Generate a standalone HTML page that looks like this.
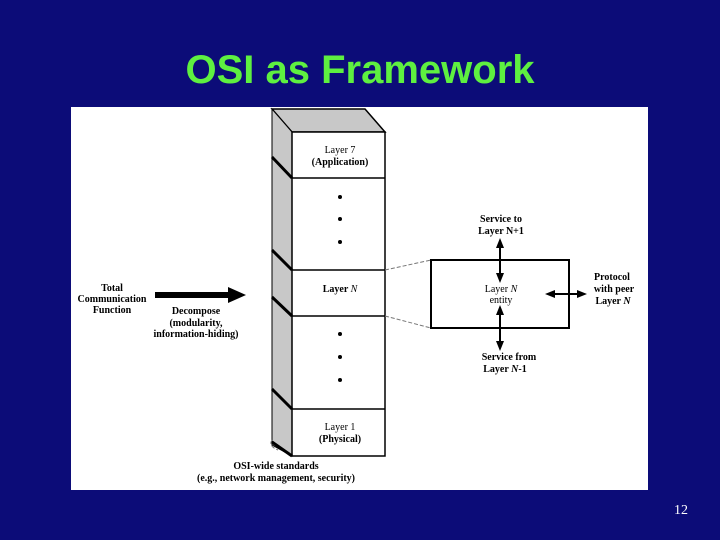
<!DOCTYPE html>
<html><head><style>
body{margin:0;width:720px;height:540px;background:#0c0c78;overflow:hidden;position:relative;font-family:"Liberation Serif",serif}
h1{position:absolute;top:48px;left:0;width:720px;margin:0;text-align:center;font:bold 40px "Liberation Sans",sans-serif;color:#5ef040}
.pn{position:absolute;right:32px;top:503px;color:#fff;font-size:14px}
</style></head><body>
<h1>OSI as Framework</h1>
<svg style="position:absolute;left:0;top:0" width="720" height="540" font-family="Liberation Serif,serif" font-size="10" font-weight="bold">
<rect x="71" y="107" width="577" height="383" fill="#fff"/>
<polygon points="272,109 365,109 385,132 292,132" fill="#c8c8c8" stroke="#000" stroke-width="1.5"/>
<polygon points="272,109 292,132 292,456 272,445" fill="#c8c8c8" stroke="#000" stroke-width="1"/>
<rect x="292" y="132" width="93" height="324" fill="#fff" stroke="#000" stroke-width="1.5"/>
<g stroke="#000" stroke-width="1.5">
<line x1="292" y1="178" x2="385" y2="178"/><line x1="292" y1="270" x2="385" y2="270"/>
<line x1="292" y1="316" x2="385" y2="316"/><line x1="292" y1="409" x2="385" y2="409"/>
</g>
<g stroke="#000" stroke-width="3">
<line x1="272" y1="157" x2="292" y2="178"/><line x1="272" y1="250" x2="292" y2="270"/>
<line x1="272" y1="297" x2="292" y2="316"/><line x1="272" y1="389" x2="292" y2="409"/>
<line x1="272" y1="442" x2="292" y2="456"/>
</g>
<g fill="#000"><circle cx="340" cy="197" r="2"/><circle cx="340" cy="219" r="2"/><circle cx="340" cy="242" r="2"/>
<circle cx="340" cy="334" r="2"/><circle cx="340" cy="357" r="2"/><circle cx="340" cy="380" r="2"/></g>
<g text-anchor="middle">
<text x="340" y="153" font-weight="normal">Layer 7</text><text x="340" y="165">(Application)</text>
<text x="340" y="292">Layer <tspan font-style="italic" font-weight="normal">N</tspan></text>
<text x="340" y="430" font-weight="normal">Layer 1</text><text x="340" y="442">(Physical)</text>
<text x="112" y="291">Total</text><text x="112" y="302">Communication</text><text x="112" y="313">Function</text>
<text x="196" y="314">Decompose</text><text x="196" y="326">(modularity,</text><text x="196" y="337">information-hiding)</text>
<text x="276" y="469">OSI-wide standards</text><text x="276" y="481">(e.g., network management, security)</text>
<text x="501" y="222">Service to</text><text x="501" y="234">Layer N+1</text>
<text x="501" y="292" font-weight="normal">Layer <tspan font-style="italic">N</tspan></text><text x="501" y="303" font-weight="normal">entity</text>
<text x="509" y="360">Service from</text><text x="505" y="372">Layer <tspan font-style="italic">N</tspan>-1</text>
<text x="612" y="280">Protocol</text><text x="614" y="292">with peer</text><text x="613" y="304">Layer <tspan font-style="italic">N</tspan></text>
</g>
<g stroke="#777" stroke-dasharray="4,2"><line x1="385" y1="270" x2="431" y2="260"/><line x1="385" y1="316" x2="431" y2="328"/>
<path d="M272,440 q-4,6 6,10" fill="none"/></g>
<rect x="431" y="260" width="138" height="68" fill="none" stroke="#000" stroke-width="2"/>
<polygon points="155,292 228,292 228,287 246,295 228,303 228,298 155,298" fill="#000"/>
<g stroke="#000" stroke-width="2"><line x1="500" y1="244" x2="500" y2="277"/><line x1="500" y1="310" x2="500" y2="345"/><line x1="550" y1="294" x2="581" y2="294"/></g>
<g fill="#000">
<polygon points="500,238 496,248 504,248"/><polygon points="500,283 496,273 504,273"/>
<polygon points="500,305 496,315 504,315"/><polygon points="500,351 496,341 504,341"/>
<polygon points="545,294 555,290 555,298"/><polygon points="587,294 577,290 577,298"/>
</g>
</svg>
<div class="pn">12</div>
</body></html>
